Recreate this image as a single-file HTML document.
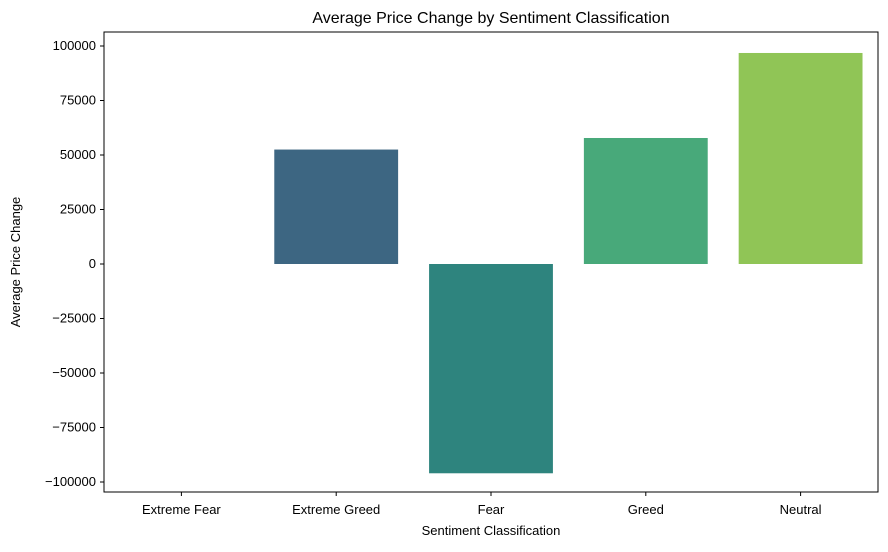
<!DOCTYPE html>
<html><head><meta charset="utf-8"><style>
body{margin:0;background:#fff;}
svg text{font-family:"Liberation Sans","DejaVu Sans",sans-serif;fill:#000;}
</style></head><body>
<svg id="chart" width="888" height="547" xmlns="http://www.w3.org/2000/svg">
<text x="491" y="23" font-size="16" text-anchor="middle">Average Price Change by Sentiment Classification</text>
<g id="bars"></g>
<rect x="104" y="32" width="774" height="460" fill="none" stroke="#000" stroke-width="1"/>
<g id="yaxis"></g><g id="xaxis"></g>
<text x="491" y="535" font-size="13" text-anchor="middle">Sentiment Classification</text>
<text transform="translate(20,262) rotate(-90)" font-size="13" text-anchor="middle">Average Price Change</text>
</svg>
<script>
const categories=["Extreme Fear","Extreme Greed","Fear","Greed","Neutral"];
const values=[0,52500,-96000,57800,96800];
const colors=["#46327e","#3d6682","#2e847e","#48a97a","#90c556"];
const yTicks=[-100000,-75000,-50000,-25000,0,25000,50000,75000,100000];
const yTickLabels=["\u2212100000","\u221275000","\u221250000","\u221225000","0","25000","50000","75000","100000"];
const NS="http://www.w3.org/2000/svg";
const L=104,R=878,T=32,B=492;
function y(v){return 264-v*218/100000;}
const step=(R-L)/categories.length;
function xc(i){return L+step*(i+0.5);}
function mk(t,a){const e=document.createElementNS(NS,t);for(const k in a)e.setAttribute(k,a[k]);return e;}
const gb=document.getElementById('bars'),gy=document.getElementById('yaxis'),gx=document.getElementById('xaxis');
values.forEach((v,i)=>{
 const w=step*0.8;
 const r=mk('rect',{x:xc(i)-w/2,y:Math.min(y(v),y(0)),width:w,height:Math.abs(y(v)-y(0)),fill:colors[i]});
 
 
 gb.appendChild(r);
});
yTicks.forEach((t,i)=>{
 const l=mk('line',{x1:L-4,x2:L,y1:y(t),y2:y(t),stroke:'#000'});
 
 
 gy.appendChild(l);
 const tx=mk('text',{x:L-8,y:y(t)+4,'font-size':13,'text-anchor':'end'});
 tx.textContent=yTickLabels[i];
 
 
 gy.appendChild(tx);
});
categories.forEach((c,i)=>{
 const l=mk('line',{x1:xc(i),x2:xc(i),y1:B,y2:B+4,stroke:'#000'});
 
 
 gx.appendChild(l);
 const tx=mk('text',{x:xc(i),y:B+22,'font-size':13,'text-anchor':'middle'});
 tx.textContent=c;
 
 
 gx.appendChild(tx);
});
</script>
</body></html>
